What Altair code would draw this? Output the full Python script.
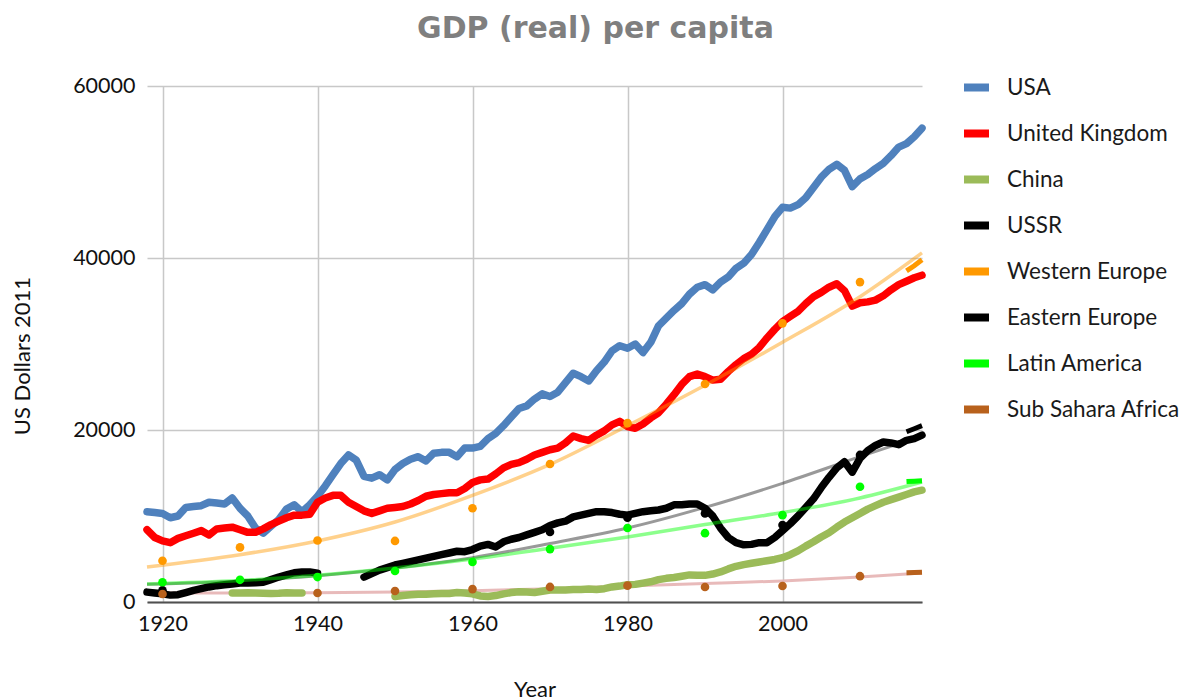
import altair as alt
import pandas as pd

SERIES = ["USA", "United Kingdom", "China", "USSR", "Western Europe",
          "Eastern Europe", "Latin America", "Sub Sahara Africa"]
COLORS = ["#4f81bd", "#ff0000", "#9bbb59", "#000000", "#ff9900",
          "#000000", "#00ff00", "#b8611c"]

YEARS = list(range(1918, 2019))
USA = [
    10500, 10400,
    10300, 9800, 10000, 11000, 11100, 11200, 11600, 11500, 11400, 12100,
    10900, 10000, 8600, 8000, 8800, 9600, 10800, 11300, 10500, 11300,
    12300, 13500, 14800, 16100, 17100, 16500, 14600, 14400, 14800, 14200,
    15400, 16100, 16600, 16900, 16400, 17300, 17400, 17400, 16900, 17900,
    17900, 18100, 19000, 19600, 20500, 21500, 22500, 22800, 23600, 24200,
    23900, 24400, 25500, 26600, 26200, 25700, 26900, 27900, 29200, 29800,
    29500, 30000, 29000, 30200, 32100, 33000, 33900, 34700, 35800, 36600,
    36900, 36300, 37200, 37800, 38800, 39400, 40400, 41800, 43300, 44800,
    45900, 45800, 46200, 47000, 48200, 49400, 50300, 50900, 50200, 48300,
    49200, 49700, 50400, 51000, 51900, 52900, 53300, 54100, 55100,
]
UK = [
    8400, 7500,
    7100, 6900, 7400, 7700, 8000, 8300, 7800, 8500, 8600, 8700,
    8400, 8100, 8100, 8500, 9000, 9400, 9800, 10100, 10100, 10200,
    11600, 12100, 12400, 12400, 11600, 11100, 10600, 10300, 10600, 10900,
    11000, 11100, 11400, 11800, 12300, 12500, 12600, 12700, 12700, 13200,
    13900, 14200, 14300, 14900, 15600, 16000, 16200, 16600, 17100, 17400,
    17700, 17900, 18500, 19300, 19000, 18800, 19400, 19900, 20600, 21000,
    20400, 20200, 20700, 21400, 22000, 23000, 24100, 25300, 26200, 26500,
    26200, 25800, 25900, 26800, 27600, 28300, 28800, 29600, 30700, 31700,
    32600, 33200, 33800, 34700, 35500, 36000, 36600, 37000, 36200, 34400,
    34800, 34900, 35100, 35600, 36300, 36900, 37300, 37700, 38000,
]
CHINA_A_YEARS = list(range(1929, 1939))
CHINA_A = [1050, 1050, 1080, 1050, 1030, 1000, 1030, 1080, 1050, 1050]
CHINA_B_YEARS = list(range(1950, 2019))
CHINA_B = [
    650, 750, 850, 900, 900, 950, 1000, 1000, 1100, 1050,
    950, 700, 650, 750, 950, 1100, 1200, 1150, 1100, 1250,
    1400, 1400, 1400, 1450, 1450, 1500, 1450, 1550, 1750, 1850,
    2000, 2050, 2200, 2350, 2600, 2750, 2850, 3000, 3150, 3100,
    3100, 3250, 3500, 3850, 4150, 4350, 4500, 4650, 4800, 4950,
    5150, 5500, 5950, 6500, 7000, 7550, 8050, 8700, 9300, 9800,
    10300, 10800, 11200, 11600, 11900, 12200, 12500, 12800, 13000,
]
USSR_A_YEARS = list(range(1918, 1941))
USSR_A = [
    1150, 1050, 950, 800, 850, 1100, 1350, 1550, 1750, 1900,
    2000, 2100, 2200, 2200, 2250, 2300, 2600, 2900, 3150, 3400,
    3500, 3500, 3350,
]
USSR_B_YEARS = list(range(1946, 2019))
USSR_B = [
    2900, 3300, 3700, 4000,
    4300, 4500, 4700, 4900, 5100, 5300, 5500, 5700, 5900, 5850,
    6100, 6500, 6700, 6400, 7000, 7300, 7500, 7800, 8100, 8400,
    8900, 9200, 9400, 9900, 10100, 10300, 10500, 10500, 10400, 10200,
    10100, 10300, 10500, 10600, 10700, 10900, 11300, 11300, 11400, 11400,
    10900, 10000, 8600, 7500, 6900, 6650, 6700, 6900, 6900, 7500,
    8300, 9100, 10000, 11000, 12000, 13300, 14500, 15600, 16300, 15100,
    16700, 17600, 18200, 18600, 18500, 18300, 18800, 19000, 19400,
]

DECADES = [1920, 1930, 1940, 1950, 1960, 1970, 1980, 1990, 2000, 2010]
WE_DOTS = [4800, 6350, 7150, 7100, 10900, 16050, 20800, 25350, 32400, 37200]
LA_DOTS = [2300, 2580, 2900, 3600, 4650, 6150, 8600, 8000, 10100, 13400]
SSA_DOT_YEARS = [1920, 1940, 1950, 1960, 1970, 1980, 1990, 2000, 2010]
SSA_DOTS = [930, 1050, 1280, 1500, 1750, 1900, 1740, 1860, 3000]
EE_DOT_YEARS = [1920, 1970, 1980, 1990, 2000, 2010]
EE_DOTS = [1350, 8140, 9800, 10300, 8950, 17100]

END_YEARS = [2016, 2017, 2018]
WE_END = [38500, 39100, 39800]
EE_END = [19800, 20150, 20500]
LA_END = [14000, 14050, 14100]
SSA_END = [3400, 3420, 3450]

TREND_YEARS = [1918, 1930, 1940, 1950, 1960, 1970, 1980, 1990, 2000, 2010, 2018]
WE_TREND = [4070, 5500, 7100, 9300, 12400, 16000, 20500, 25200, 30200, 35500, 40600]
EE_TREND = [2050, 2450, 3050, 3950, 5150, 6800, 8600, 11000, 13800, 16900, 19300]
LA_TREND = [2100, 2500, 3100, 3950, 5000, 6250, 7550, 9000, 10400, 12100, 13950]
SSA_TREND = [1050, 1050, 1080, 1150, 1300, 1550, 1850, 2150, 2450, 2900, 3370]

# ---------- tables ----------
def rows(years, values, series, seg=None):
    return [{"year": y, "value": v, "series": series, "seg": seg or series}
            for y, v in zip(years, values)]

lines_df = pd.DataFrame(
    rows(YEARS, USA, "USA") + rows(YEARS, UK, "United Kingdom")
    + rows(CHINA_A_YEARS, CHINA_A, "China", "China-a")
    + rows(CHINA_B_YEARS, CHINA_B, "China", "China-b")
    + rows(USSR_A_YEARS, USSR_A, "USSR", "USSR-a")
    + rows(USSR_B_YEARS, USSR_B, "USSR", "USSR-b")
)
dots_df = pd.DataFrame(
    rows(EE_DOT_YEARS, EE_DOTS, "Eastern Europe")
    + rows(DECADES, WE_DOTS, "Western Europe")
    + rows(DECADES, LA_DOTS, "Latin America")
    + rows(SSA_DOT_YEARS, SSA_DOTS, "Sub Sahara Africa")
)
ends_df = pd.DataFrame(
    rows(END_YEARS, WE_END, "Western Europe") + rows(END_YEARS, EE_END, "Eastern Europe")
    + rows(END_YEARS, LA_END, "Latin America") + rows(END_YEARS, SSA_END, "Sub Sahara Africa")
)

X = alt.X("year:Q",
          scale=alt.Scale(domain=[1918, 2018], nice=False, zero=False),
          axis=alt.Axis(values=[1920, 1940, 1960, 1980, 2000], format="d", title="Year",
                        grid=True, ticks=False, tickSize=0, domain=True,
                        domainColor="#505050", domainWidth=2,
                        labelPadding=11, titleX=387.5, titleY=87,
                        titleBaseline="middle"))
Y = alt.Y("value:Q",
          scale=alt.Scale(domain=[0, 60000], nice=False),
          axis=alt.Axis(values=[0, 20000, 40000, 60000], format="d",
                        title="US Dollars 2011", grid=True, ticks=False, tickSize=0,
                        domain=False, labelPadding=12, titleX=-125, titleY=269.5,
                        titleBaseline="middle", titleAngle=-90))
COLOR = alt.Color("series:N", scale=alt.Scale(domain=SERIES, range=COLORS),
                  legend=alt.Legend(orient="none", legendX=813, legendY=-15,
                                    direction="vertical", title=None,
                                    symbolType="stroke", symbolSize=625,
                                    symbolStrokeWidth=8, labelFontSize=22.5,
                                    labelColor="#1a1a1a", rowPadding=13,
                                    labelOffset=14, padding=0, labelLimit=400))


def trend(vals, col, op, w):
    tdf = pd.DataFrame({"year": TREND_YEARS, "value": vals})
    return alt.Chart(tdf).mark_line(color=col, opacity=op, strokeWidth=w,
                                    interpolate="monotone").encode(x=X, y=Y)


lines = alt.Chart(lines_df).mark_line(strokeWidth=7.5, strokeJoin="round",
                                      strokeCap="round").encode(
    x=X, y=Y, color=COLOR, detail="seg:N")
ssa_trend = trend(SSA_TREND, "#e6b3b3", 0.9, 3.0)
we_trend = trend(WE_TREND, "#ff9900", 0.45, 3.5)
ee_trend = trend(EE_TREND, "#000000", 0.4, 3.0)
la_trend = trend(LA_TREND, "#00ff00", 0.45, 3.5)

dots = alt.Chart(dots_df).mark_circle(size=75, opacity=1).encode(x=X, y=Y, color=COLOR)
ends = alt.Chart(ends_df).mark_line(strokeWidth=5).encode(
    x=X, y=Y, color=COLOR, detail="series:N")

chart = alt.layer(ssa_trend, lines, we_trend, ee_trend, la_trend, dots, ends).properties(
    width=775, height=516,
    title=alt.TitleParams("GDP (real) per capita", fontSize=30, fontWeight="bold",
                          font="DejaVu Sans", color="#7f7f7f", anchor="middle", dx=61,
                          baseline="alphabetic", offset=3),
    autosize=alt.AutoSizeParams(type="none"),
    padding={"left": 139, "top": 78, "right": 258, "bottom": 98},
).configure(font="Lato").configure_view(stroke=None).configure_axis(
    gridColor="#c8c8c8", gridWidth=1.5, labelFontSize=21.5, labelColor="#111111",
    titleFontSize=22, titleFontWeight="normal", titleColor="#111111",
    labelFont="Lato", titleFont="Lato")

chart.save("out.html", embed_options={"renderer": "svg", "actions": False})
